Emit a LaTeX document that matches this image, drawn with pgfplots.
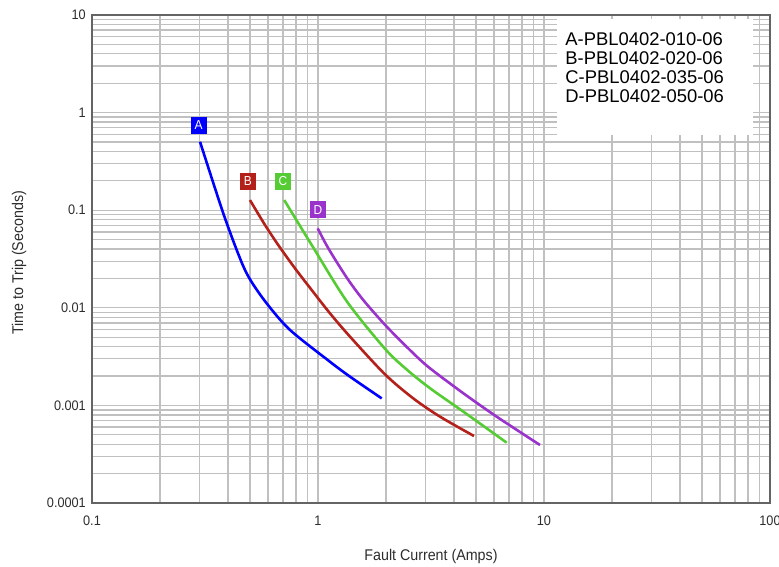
\documentclass[border=0pt]{standalone}
\usepackage{fontspec}
\setmainfont{Liberation Sans}
\newfontfamily\cond{Liberation Sans}[FakeStretch=0.92]
\usepackage{pgfplots}
\pgfplotsset{compat=1.18}

\definecolor{cA}{RGB}{0,0,255}
\definecolor{cB}{RGB}{180,32,26}
\definecolor{cC}{RGB}{85,204,51}
\definecolor{cD}{RGB}{153,51,204}
\definecolor{gridc}{RGB}{192,192,192}
\definecolor{axc}{RGB}{100,100,100}
\definecolor{txt}{RGB}{45,45,45}

\begin{document}
\begin{tikzpicture}[x=1pt,y=1pt]
  \begin{axis}[
    name=ax,
    scale only axis,
    width=678pt,
    height=488pt,
    xmode=log, ymode=log,
    xmin=0.1, xmax=100,
    ymin=0.0001, ymax=10,
    grid=both,
    major grid style={gridc, line width=1.3pt},
    minor grid style={gridc, line width=1.3pt},
    axis line style={axc, line width=1.6pt},
    major tick length=0pt, minor tick length=0pt,
    xtick={0.1,1,10,100},
    xticklabels={0.1,1,10,100},
    ytick={0.0001,0.001,0.01,0.1,1,10},
    yticklabels={0.0001,0.001,0.01,0.1,1,10},
    tick label style={font=\cond\fontsize{13.8}{16}\selectfont, text=txt, inner sep=0pt},
    xticklabel style={anchor=center, yshift=-18pt},
    yticklabel style={anchor=east, xshift=-6pt},
    xlabel={Fault Current (Amps)},
    ylabel={Time to Trip (Seconds)},
    label style={font=\cond\fontsize{15.5}{18}\selectfont, text=txt, inner sep=0pt},
    xlabel style={at={([yshift=-53pt]rel axis cs:0.5,0)}, anchor=center},
    ylabel style={at={([xshift=-73pt]rel axis cs:0,0.492)}, anchor=center},
    clip=false,
  ]
    % legend box
    \fill[white] (rel axis cs:0.686,0.754) rectangle (rel axis cs:0.975,0.992);
    \tikzset{leg/.style={anchor=base west, inner sep=0pt, font=\fontsize{18.4}{19}\selectfont}}
    \node[leg] at (rel axis cs:0.698,0.9371) {A-PBL0402-010-06};
    \node[leg] at (rel axis cs:0.698,0.8980) {B-PBL0402-020-06};
    \node[leg] at (rel axis cs:0.698,0.8588) {C-PBL0402-035-06};
    \node[leg] at (rel axis cs:0.698,0.8197) {D-PBL0402-050-06};

    \addplot[cA, line width=2.6pt, smooth] coordinates {
      (0.3006,0.503) (0.381,0.0929) (0.452,0.032) (0.500,0.0196)
      (0.593,0.0111) (0.752,0.00593) (1.13,0.0028) (1.386,0.00197) (1.914,0.00118)
    };
    \addplot[cB, line width=2.6pt, smooth] coordinates {
      (0.50,0.127) (0.583,0.0705) (0.667,0.044) (0.791,0.0254) (0.938,0.0152)
      (1.13,0.00878) (1.386,0.00506) (1.98,0.00208) (2.64,0.00118)
      (3.47,0.000766) (4.90,0.000486)
    };
    \addplot[cC, line width=2.6pt, smooth] coordinates {
      (0.709,0.127) (0.938,0.044) (1.343,0.0116) (1.98,0.0038)
      (2.47,0.00233) (3.13,0.0015) (4.40,0.000862) (6.84,0.000415)
    };
    \addplot[cD, line width=2.6pt, smooth] coordinates {
      (0.997,0.0652) (1.111,0.0407) (1.340,0.0204) (1.587,0.0120)
      (2.014,0.00641) (2.64,0.00342) (3.13,0.0024) (4.40,0.00133)
      (6.18,0.000766) (9.6,0.000393)
    };

    \tikzset{lbl/.style={text=white, minimum width=16pt, minimum height=17pt,
      inner sep=0pt, font=\cond\fontsize{13}{14}\selectfont}}
    \node[lbl, fill=cA] at (axis cs:0.296,0.745) {A};
    \node[lbl, fill=cB] at (axis cs:0.49,0.198) {B};
    \node[lbl, fill=cC] at (axis cs:0.70,0.198) {C};
    \node[lbl, fill=cD] at (axis cs:1.0,0.1005) {D};
  \end{axis}
  \pgfresetboundingbox
  \path (ax.south west) ++(-92,-63) rectangle ++(779,566);
\end{tikzpicture}
\end{document}
